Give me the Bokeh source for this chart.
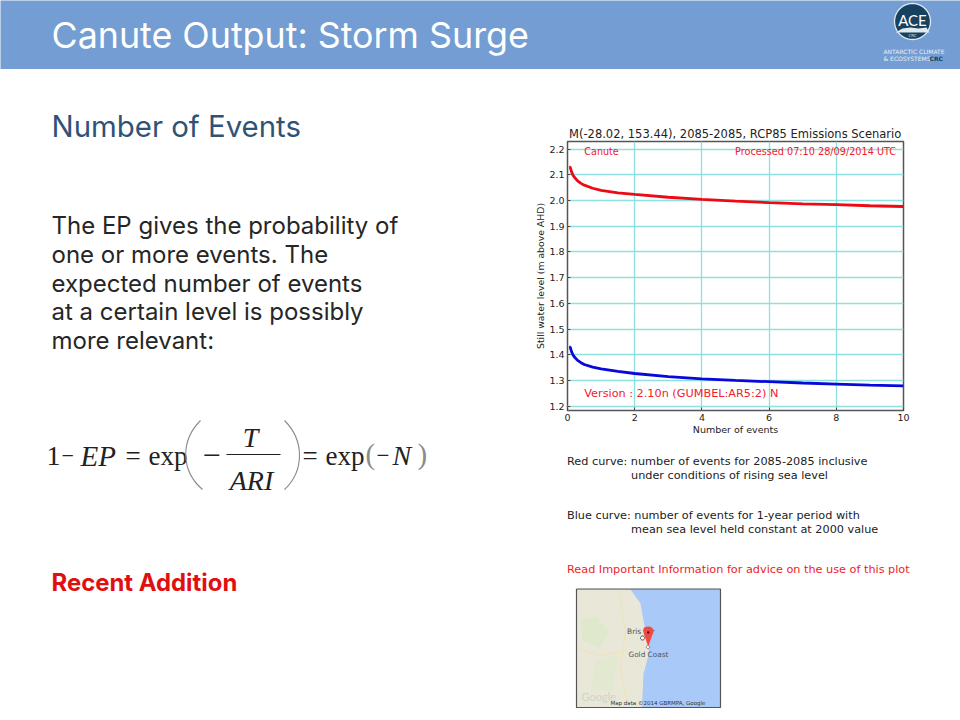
from bokeh.plotting import figure
from bokeh.layouts import column, row
from bokeh.models import Range1d, FixedTicker, NumeralTickFormatter
from bokeh.embed import file_html
from bokeh.resources import INLINE
from bokeh.core.properties import value
import math

events_red = [0.05, 0.08, 0.12, 0.16, 0.2, 0.3, 0.4, 0.5, 0.75, 1, 1.5, 2, 3, 4, 5, 6, 7, 8, 9, 10]
level_red = [2.13, 2.13, 2.112, 2.1, 2.092, 2.077, 2.067, 2.06, 2.048, 2.04, 2.03, 2.024, 2.013, 2.005, 1.998, 1.992, 1.987, 1.984, 1.98, 1.977]
events_blue = [0.05, 0.08, 0.12, 0.16, 0.2, 0.3, 0.4, 0.5, 0.75, 1, 1.5, 2, 3, 4, 5, 6, 7, 8, 9, 10]
level_blue = [1.43, 1.43, 1.412, 1.4, 1.392, 1.378, 1.369, 1.362, 1.352, 1.345, 1.335, 1.327, 1.315, 1.306, 1.3, 1.295, 1.29, 1.286, 1.282, 1.279]
x_ticks = [0, 2, 4, 6, 8, 10]
y_ticks = [1.2, 1.3, 1.4, 1.5, 1.6, 1.7, 1.8, 1.9, 2.0, 2.1, 2.2]
chart_title = "M(-28.02, 153.44), 2085-2085, RCP85 Emissions Scenario"
body_lines = ["The EP gives the probability of", "one or more events. The", "expected  number of events",
              "at a certain level is possibly", "more relevant:"]


def panel(left, top, right, bottom):
    f = figure(width=right - left, height=bottom - top, output_backend="svg", toolbar_location=None,
               x_range=Range1d(left, right), y_range=Range1d(bottom, top),
               x_axis_location=None, y_axis_location=None, frame_align=False,
               min_border_left=0, min_border_right=0, min_border_top=0, min_border_bottom=0)
    f.grid.visible = False
    f.outline_line_color = None
    f.background_fill_color = "white"
    f.border_fill_color = "white"
    return f


def label(f, x, y, s, size, color="#222222", font="DejaVu Sans", style="normal", align="left"):
    f.text([x], [y], text=[s], text_font=value(font), text_font_size=value(f"{size}px"), text_color=color,
           text_font_style=style, text_align=align, text_baseline="middle")


def box(f, l, t, r, b, color):
    f.quad(left=[l], right=[r], top=[t], bottom=[b], fill_color=color, line_color=None)


def poly(f, xs, ys, color):
    f.patch(xs, ys, fill_color=color, line_color=None)


def circle(f, cx, cy, r, color, line=None, lw=1):
    n = 48
    f.patch([cx + r * math.cos(2 * math.pi * i / n) for i in range(n)],
            [cy + r * math.sin(2 * math.pi * i / n) for i in range(n)],
            fill_color=color, line_color=line, line_width=lw)


# header
head = panel(0, 0, 960, 69)
head.background_fill_color = "#739dd3"
label(head, 51, 34, "Canute Output: Storm Surge", 35.8, "white", "Inter")
circle(head, 912, 21, 18, "#17415f", "#dfe9f2", 1.3)
poly(head, [895, 902, 910, 918, 926, 929, 895], [32, 28, 27, 28, 27, 32, 32], "#dfe9f0")
label(head, 912, 19, "ACE", 15, "white", "Lato", align="center")
label(head, 912, 35, "CRC", 4, "#cfe0ec", align="center")
label(head, 883, 50.5, "ANTARCTIC CLIMATE", 6, "#e8eff7")
label(head, 883, 58, "& ECOSYSTEMS", 6, "#e8eff7")
label(head, 929, 58, "CRC", 6, "#17415f", style="bold")

# left column
left = panel(0, 69, 520, 720)
label(left, 51, 126, "Number of Events", 29.4, "#2f5377", "Inter")
for y, s in zip((225, 254, 283, 311, 340), body_lines):
    label(left, 51, y, s, 24, "#262626", "Inter")
label(left, 51, 582, "Recent Addition", 23.9, "#e01010", "Inter", style="bold")

F = "Liberation Serif"
INK = "#222222"
label(left, 46, 455, "1", 28, INK, F)
label(left, 61, 455, "\u2212", 22, INK, F)
label(left, 80, 455, "EP", 29, INK, F, style="italic")
label(left, 125, 455, "=", 27, INK, F)
label(left, 148, 455, "exp", 27, INK, F)
left.bezier(x0=[200], y0=[420], x1=[202], y1=[489], cx0=[180], cy0=[440], cx1=[180], cy1=[470],
            line_color="#8a8a8a", line_width=1.1)
label(left, 202, 455, "\u2212", 32, INK, F)
box(left, 226, 453.5, 280, 454.5, INK)
label(left, 250, 437, "T", 28, INK, F, style="italic", align="center")
label(left, 251, 480, "ARI", 28, INK, F, style="italic", align="center")
left.bezier(x0=[284], y0=[420], x1=[284], y1=[489], cx0=[304], cy0=[440], cx1=[304], cy1=[470],
            line_color="#8a8a8a", line_width=1.1)
label(left, 302, 455, "=", 27, INK, F)
label(left, 325, 455, "exp", 27, INK, F)
label(left, 365, 453, "(", 29, "#8a8a8a", F)
label(left, 376, 455, "\u2212", 23, INK, F)
label(left, 392, 455, "N", 28, INK, F, style="italic")
label(left, 417, 453, ")", 29, "#8a8a8a", F)

# chart
p = figure(width=440, height=371, output_backend="svg", toolbar_location=None, frame_align=False,
           x_range=Range1d(0, 10), y_range=Range1d(1.183, 2.23),
           min_border_left=47, min_border_right=57, min_border_top=72, min_border_bottom=30,
           title=chart_title)
p.title.text_font = "DejaVu Sans"
p.title.text_font_size = "11.5px"
p.title.text_font_style = "normal"
p.title.text_color = "#222222"
p.title.offset = 1.5
p.title.standoff = 2
p.outline_line_color = "#555555"
p.outline_line_width = 1.5
p.border_fill_color = "white"
for g, t in ((p.xgrid, x_ticks), (p.ygrid, y_ticks)):
    g.grid_line_color = "#8fe0e0"
    g.grid_line_width = 1.3
    g.ticker = FixedTicker(ticks=t)
p.xaxis.ticker = FixedTicker(ticks=x_ticks)
p.yaxis.ticker = FixedTicker(ticks=y_ticks)
p.yaxis.formatter = NumeralTickFormatter(format="0.0")
p.xaxis.axis_label = "Number of events"
p.yaxis.axis_label = "Still water level (m above AHD)"
for ax in (p.xaxis, p.yaxis):
    ax.axis_label_text_font = "DejaVu Sans"
    ax.axis_label_text_font_style = "normal"
    ax.axis_label_text_color = "#222222"
    ax.axis_label_standoff = 0
    ax.major_label_text_font = "DejaVu Sans"
    ax.major_label_text_font_size = "9.5px"
    ax.major_label_text_color = "#222222"
    ax.major_tick_in = 3
    ax.major_tick_out = 0
    ax.minor_tick_line_color = None
    ax.axis_line_color = None
    ax.major_tick_line_color = "#444444"
    ax.major_label_standoff = 3
p.xaxis.axis_label_text_font_size = "9.5px"
p.yaxis.axis_label_text_font_size = "9.3px"
p.line(events_red, level_red, line_color="#ee0a14", line_width=2.8)
p.line(events_blue, level_blue, line_color="#0808dc", line_width=2.8)
label(p, 0.5, 2.19, "Canute", 9.6, "#f0202c")
label(p, 9.78, 2.19, "Processed 07:10 28/09/2014 UTC", 9.7, "#f0202c", align="right")
label(p, 0.5, 1.25, "Version : 2.10n (GUMBEL:AR5:2) N", 11.25, "#f0202c")

# notes and map
low = panel(520, 440, 960, 720)
label(low, 566.5, 461, "Red curve: number of events for 2085-2085 inclusive", 11.25)
label(low, 630.5, 475, "under conditions of rising sea level", 11.25)
label(low, 566.5, 515, "Blue curve: number of events for 1-year period with", 11.25)
label(low, 630.5, 529, "mean sea level held constant at 2000 value", 11.25)
label(low, 566.5, 569, "Read Important Information for advice on the use of this plot", 11.25, "#ee1c25")

box(low, 576, 588.5, 720, 707, "#a9c9f8")
poly(low, [576.5, 630, 640, 643, 647, 648.5, 643, 641.5, 576.5],
     [589, 589, 603, 620, 640, 653, 673, 706.5, 706.5], "#e9e8d8")
poly(low, [580, 596, 608, 600, 582], [620, 616, 632, 648, 640], "#dfe8cc")
poly(low, [595, 618, 612, 590], [660, 655, 690, 692], "#e2e9d0")
low.line([578, 600, 625, 645], [648, 655, 650, 670], line_color="#efe3b5", line_width=1)
low.line([618, 625, 620, 628], [590, 630, 670, 705], line_color="#efe3b5", line_width=1)
circle(low, 642, 637.5, 2, "white", "#444444", 1)
circle(low, 647.5, 646.5, 1.6, "white", "#666666", 0.8)
label(low, 626.5, 630.5, "Bris", 7.5, "#555555")
label(low, 651, 630.5, "r", 7.5, "#555555")
label(low, 628, 654, "Gold Coast", 7.3, "#555555")
poly(low, [642.5, 643.5, 646, 647.7, 649.5, 652, 653, 652, 647.7, 643.5],
     [630, 627, 626.2, 626, 626.2, 627.5, 631, 634, 646, 634], "#ee4b42")
circle(low, 647.7, 632, 1.2, "#5a0505")
label(low, 581, 696, "Google", 11, "#cfd3c8", "Lato")
label(low, 610, 702.5, "Map data \u00a92014 GBRMPA, Google", 5.5, "#333333")
low.line([576, 720, 720, 576, 576], [588.5, 588.5, 707, 707, 588.5], line_color="#555555", line_width=1.2)

page = column(head, row(left, column(p, low)))
open("out.html", "w").write(file_html(page, INLINE))
